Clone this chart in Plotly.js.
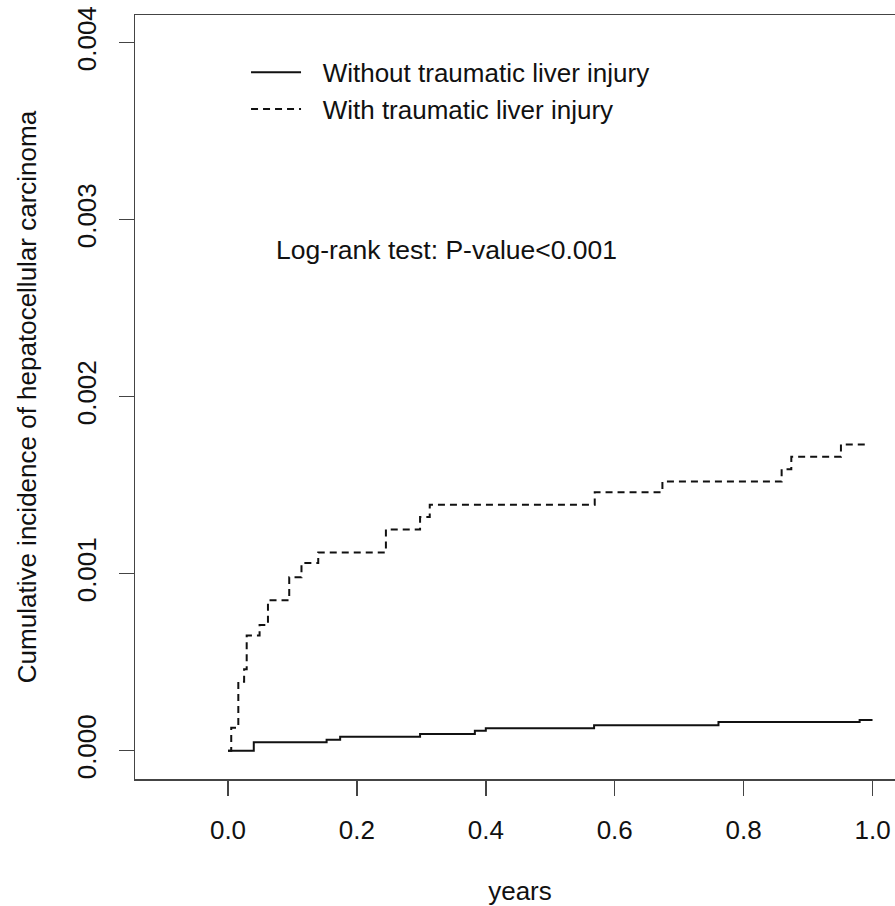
<!DOCTYPE html>
<html>
<head>
<meta charset="utf-8">
<script src="https://cdn.plot.ly/plotly-3.0.1.min.js"></script>
<style>
html,body{margin:0;padding:0;overflow:hidden;background:#fff;}
#chart{width:905px;height:906px;}
</style>
</head>
<body>
<div id="chart"></div>
<script>
// Without traumatic liver injury (solid)
var timeWithout = [0, 0.040, 0.153, 0.174, 0.298, 0.383, 0.400, 0.568, 0.761, 0.980, 1.000];
var cumWithout  = [0, 0.000047, 0.000062, 0.000078, 0.000094, 0.000113, 0.000126, 0.000143, 0.000162, 0.000173, 0.000173];

// With traumatic liver injury (dashed)
var timeWith = [0, 0.005, 0.016, 0.025, 0.029, 0.049, 0.062, 0.095, 0.114, 0.140, 0.245, 0.298, 0.313, 0.569, 0.674, 0.859, 0.874, 0.951, 0.991];
var cumWith  = [0, 0.00013, 0.00039, 0.00046, 0.00065, 0.00071, 0.00085, 0.00098, 0.00106, 0.00112, 0.00125, 0.00132, 0.00139, 0.00146, 0.00152, 0.00159, 0.00166, 0.00173, 0.00173];

var seriesNames = ["Without traumatic liver injury", "With traumatic liver injury"];
var xTicks = [0, 0.2, 0.4, 0.6, 0.8, 1.0];
var xTickText = ["0.0", "0.2", "0.4", "0.6", "0.8", "1.0"];
var yTicks = [0, 0.001, 0.002, 0.003, 0.004];
var yTickText = ["0.000", "0.001", "0.002", "0.003", "0.004"];
var annotationText = "Log-rank test: P-value<0.001";

var FONT = "Liberation Sans, Arial, sans-serif";
var GAP = "\u00a0\u00a0\u200a";

var traces = [
  {x: timeWithout, y: cumWithout, name: GAP + seriesNames[0], mode: "lines",
   line: {shape: "hv", color: "#111", width: 2, dash: "solid"}},
  {x: timeWith, y: cumWith, name: GAP + seriesNames[1], mode: "lines",
   line: {shape: "hv", color: "#111", width: 2, dash: "7px,5px"}}
];

var layout = {
  width: 905, height: 906,
  margin: {l: 135, r: 0, t: 15, b: 127},
  paper_bgcolor: "#fff", plot_bgcolor: "#fff",
  font: {family: FONT, size: 26, color: "#111"},
  showlegend: true,
  legend: {x: 0.1442, y: 0.9556, xanchor: "left", yanchor: "top",
           bgcolor: "rgba(0,0,0,0)", font: {family: FONT, size: 26, color: "#111"},
           itemwidth: 50, tracegroupgap: 0},
  xaxis: {range: [-0.1443, 1.0504], tickvals: xTicks, ticktext: xTickText,
          ticks: "outside", ticklen: 15, tickwidth: 1.5, tickcolor: "#444",
          showline: true, linecolor: "#444", linewidth: 1.5, mirror: true,
          showgrid: false, zeroline: false, ticklabelstandoff: 12,
          tickfont: {family: FONT, size: 26, color: "#111"},
          title: {text: "years", font: {family: FONT, size: 26, color: "#111"}, standoff: 42}},
  yaxis: {range: [-0.00016, 0.004156], tickvals: yTicks, ticktext: yTickText,
          tickangle: -90,
          ticks: "outside", ticklen: 15, tickwidth: 1.5, tickcolor: "#444",
          showline: true, linecolor: "#444", linewidth: 1.5, mirror: true,
          showgrid: false, zeroline: false, ticklabelstandoff: 12,
          tickfont: {family: FONT, size: 26, color: "#111"},
          title: {text: "Cumulative incidence of hepatocellular carcinoma",
                  font: {family: FONT, size: 26, color: "#111"}, standoff: 28}},
  annotations: [{x: 0.0715, y: 0.002829, xref: "x", yref: "y", text: annotationText,
                 showarrow: false, xanchor: "left", yanchor: "middle",
                 font: {family: FONT, size: 26.5, color: "#111"}}]
};

Plotly.newPlot("chart", traces, layout, {displayModeBar: false, staticPlot: true});
</script>
</body>
</html>
